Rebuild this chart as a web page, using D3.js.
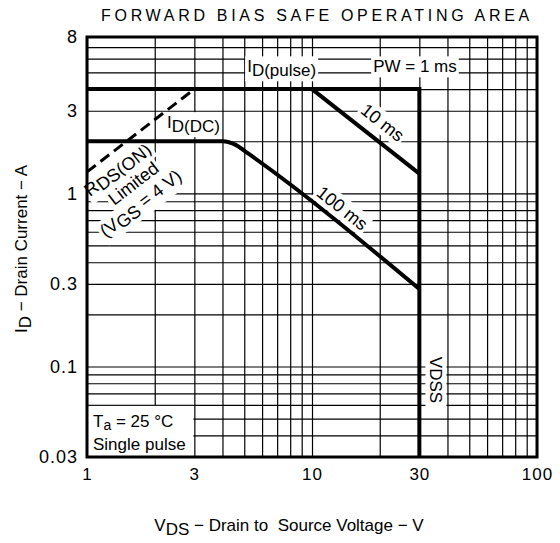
<!DOCTYPE html>
<html>
<head>
<meta charset="utf-8">
<script src="https://cdn.jsdelivr.net/npm/d3@7"></script>
<style>
  html, body { margin: 0; padding: 0; background: #fff; }
  svg { display: block; font-family: "Liberation Sans", Arial, Helvetica, sans-serif; }
</style>
</head>
<body>
<svg id="chart" width="560" height="543"></svg>
<script>
// ---------------- data ----------------
const title = "FORWARD BIAS SAFE OPERATING AREA";
const xDomain = [1, 100];
const yDomain = [0.03, 8];
const xTickValues = [1, 3, 10, 30, 100];
const xTickLabels = ["1", "3", "10", "30", "100"];
const yTickValues = [0.03, 0.1, 0.3, 1, 3, 8];
const yTickLabels = ["0.03", "0.1", "0.3", "1", "3", "8"];
const xGridValues = [1, 2, 3, 4, 5, 6, 7, 8, 9, 10, 20, 30, 40, 50, 60, 70, 80, 90, 100];
const yGridValues = [0.03, 0.04, 0.05, 0.06, 0.07, 0.08, 0.09, 0.1, 0.2, 0.3, 0.4, 0.5, 0.6, 0.7, 0.8, 0.9, 1, 2, 3, 4, 5, 6, 7, 8];

// boundaries [V_DS, I_D]
const pulse1ms = [[1, 4], [30, 4], [30, 0.03]];          // ID(pulse), PW = 1 ms, VDSS
const pulse10ms = [[10, 4], [30, 1.3]];
const dc100ms = [[1, 2], [4, 2], [4.6, 1.9], [5.2, 1.7], [30, 0.28]];
const rdsOnLimit = [[1, 1.33], [3, 4]];

// ---------------- layout ----------------
const svg = d3.select("#chart");
const pLeft = 87, pRight = 537, pTop = 37, pBottom = 457;
const x = d3.scaleLog().domain(xDomain).range([pLeft, pRight]);
const y = d3.scaleLog().domain(yDomain).range([pBottom, pTop]);

// grid
const gx = svg.append("g").attr("transform", `translate(0,${pBottom})`)
  .call(d3.axisBottom(x).tickValues(xGridValues).tickSize(-(pBottom - pTop)).tickFormat(""));
gx.select(".domain").remove();
gx.selectAll("line").attr("stroke", "#000").attr("stroke-width", 1.2);
const gy = svg.append("g").attr("transform", `translate(${pLeft},0)`)
  .call(d3.axisLeft(y).tickValues(yGridValues).tickSize(-(pRight - pLeft)).tickFormat(""));
gy.select(".domain").remove();
gy.selectAll("line").attr("stroke", "#000").attr("stroke-width", 1.2);

// tick labels
const ax = svg.append("g").attr("transform", `translate(0,${pBottom + 8})`)
  .call(d3.axisBottom(x).tickValues(xTickValues).tickSize(0)
    .tickFormat((d, i) => xTickLabels[i]));
ax.select(".domain").remove();
ax.selectAll("text").attr("font-size", 17).attr("fill", "#000")
  .attr("font-family", "Liberation Sans, Arial, sans-serif").attr("letter-spacing", "1px");

const ay = svg.append("g").attr("transform", `translate(${pLeft - 9},0)`)
  .call(d3.axisLeft(y).tickValues(yTickValues).tickSize(0)
    .tickFormat((d, i) => yTickLabels[i]));
ay.select(".domain").remove();
ay.selectAll("text").attr("font-size", 18).attr("fill", "#000")
  .attr("font-family", "Liberation Sans, Arial, sans-serif").attr("letter-spacing", "1px")
  .attr("x", 0);

// annotation helpers (white background behind text)
function label(cx, cy, rot, parts, opts = {}) {
  const g = svg.append("g").attr("transform", `translate(${cx},${cy}) rotate(${rot})`);
  const t = g.append("text")
    .attr("text-anchor", opts.anchor || "middle")
    .attr("dy", "0.35em")
    .attr("font-size", opts.size || 17)
    .attr("fill", "#000");
  parts.forEach(p => {
    t.append("tspan").text(p.t)
      .attr("dy", p.dy || 0)
      .attr("font-size", p.size || null);
  });
  if (opts.bg !== false) {
    const b = t.node().getBBox();
    const pad = opts.pad || 2;
    g.insert("rect", "text")
      .attr("x", b.x - pad).attr("y", b.y - 1)
      .attr("width", b.width + 2 * pad).attr("height", b.height + 2)
      .attr("fill", "#fff");
  }
  return g;
}
const deg = (a, b) => Math.atan2(y(b[1]) - y(a[1]), x(b[0]) - x(a[0])) * 180 / Math.PI;

// bottom-left condition box
svg.append("rect")
  .attr("x", pLeft + 1).attr("y", y(0.06) + 1)
  .attr("width", x(3) - pLeft - 2).attr("height", pBottom - y(0.06) - 2)
  .attr("fill", "#fff");
const cond = svg.append("text").attr("font-size", 17).attr("fill", "#000");
cond.append("tspan").attr("x", pLeft + 6).attr("y", y(0.06) + 22).text("T");
cond.append("tspan").attr("dy", 3).attr("font-size", 14).text("a");
cond.append("tspan").attr("dy", -3).text(" = 25 °C");
svg.append("text").attr("font-size", 17).attr("fill", "#000")
  .attr("x", pLeft + 6).attr("y", pBottom - 7).text("Single pulse");

// text labels on the plot
label(x(5.15), y(5), 0, [{t: "I"}, {t: "D(pulse)", dy: 4}], {anchor: "start"});
label(x(18.7), y(5), 0, [{t: "PW = 1 ms"}], {anchor: "start"});
label(x(2.27), y(2.38), 0, [{t: "I"}, {t: "D(DC)", dy: 4}], {anchor: "start"});
label(x(19.8), y(2.40), deg(pulse10ms[0], pulse10ms[1]), [{t: "10 ms"}], {size: 18});
label(x(13.1), y(0.77), deg(dc100ms[3], dc100ms[4]), [{t: "100 ms"}], {size: 18});
label(x(33.6), y(0.0836), 90, [{t: "VDSS"}], {pad: 3});
const rAng = deg(rdsOnLimit[0], rdsOnLimit[1]);
label(x(1.41), y(1.30), rAng, [{t: "R"}, {t: "DS(ON)", dy: 3}], {size: 18});
label(x(1.67), y(1.07), rAng, [{t: "Limited"}], {size: 18});
label(x(1.80), y(0.82), rAng, [{t: "(V"}, {t: "GS", dy: 3}, {t: " = 4 V)", dy: -3}], {size: 18});

// boundary lines
const line = d3.line().x(d => x(d[0])).y(d => y(d[1]));
const lineSmooth = d3.line().x(d => x(d[0])).y(d => y(d[1])).curve(d3.curveMonotoneX);
svg.append("path").attr("d", line(pulse1ms)).attr("fill", "none")
  .attr("stroke", "#000").attr("stroke-width", 4).attr("stroke-linejoin", "miter");
svg.append("path").attr("d", line(pulse10ms)).attr("fill", "none")
  .attr("stroke", "#000").attr("stroke-width", 4);
svg.append("path").attr("d", lineSmooth(dc100ms)).attr("fill", "none")
  .attr("stroke", "#000").attr("stroke-width", 4);
svg.append("path").attr("d", line(rdsOnLimit)).attr("fill", "none")
  .attr("stroke", "#000").attr("stroke-width", 3).attr("stroke-dasharray", "11,6");

// frame
svg.append("rect").attr("x", pLeft).attr("y", pTop)
  .attr("width", pRight - pLeft).attr("height", pBottom - pTop)
  .attr("fill", "none").attr("stroke", "#000").attr("stroke-width", 3);

// titles
svg.append("text").attr("x", 317).attr("y", 21).attr("text-anchor", "middle")
  .attr("font-size", 16).attr("letter-spacing", "3.7px").attr("fill", "#000").text(title);

const xt = svg.append("text").attr("x", 289).attr("y", 531).attr("text-anchor", "middle")
  .attr("font-size", 17).attr("fill", "#000").attr("xml:space", "preserve");
xt.append("tspan").text("V");
xt.append("tspan").attr("dy", 4).text("DS");
xt.append("tspan").attr("dy", -4).text(" − Drain to  Source Voltage − V");

const yt = svg.append("text").attr("transform", `translate(27,${(pTop + pBottom) / 2 + 2}) rotate(-90)`)
  .attr("text-anchor", "middle").attr("font-size", 17).attr("fill", "#000");
yt.append("tspan").text("I");
yt.append("tspan").attr("dy", 4).text("D");
yt.append("tspan").attr("dy", -4).text(" − Drain Current − A");
</script>
</body>
</html>
